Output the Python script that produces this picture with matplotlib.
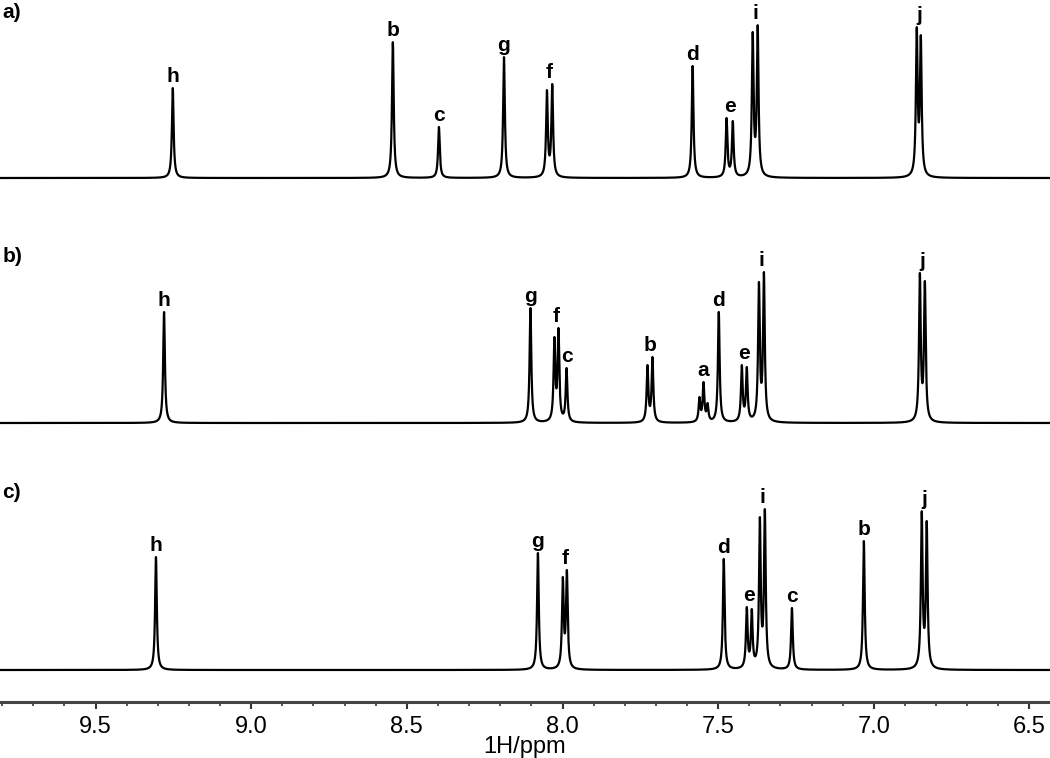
import numpy as np
import matplotlib.pyplot as plt
from matplotlib.ticker import MultipleLocator, FormatStrFormatter

plt.rcParams['font.family'] = ['Liberation Sans', 'DejaVu Sans']

# peak lists (shift in ppm, visible peak height, assignment)
a_shift = [9.252, 8.545, 8.397, 8.188, 8.050, 8.033, 7.582, 7.473, 7.453,
           7.389, 7.373, 6.862, 6.849]
a_height = [90, 136, 51, 121, 88, 94, 112, 60, 57, 146, 153, 151, 143]
a_label = ['h', 'b', 'c', 'g', 'f', 'f', 'd', 'e', 'e', 'i', 'i', 'j', 'j']

b_shift = [9.280, 8.103, 8.026, 8.013, 7.987, 7.727, 7.711, 7.560, 7.547,
           7.534, 7.498, 7.424, 7.408, 7.369, 7.353, 6.852, 6.836]
b_height = [111, 115, 86, 95, 55, 58, 66, 26, 41, 20, 111, 58, 56, 141, 151,
            150, 142]
b_label = ['h', 'g', 'f', 'f', 'c', 'b', 'b', 'a', 'a', 'a', 'd', 'e', 'e',
           'i', 'i', 'j', 'j']

c_shift = [9.306, 8.079, 7.999, 7.986, 7.482, 7.408, 7.392, 7.366, 7.350,
           7.263, 7.032, 6.846, 6.830]
c_height = [113, 117, 93, 100, 111, 63, 61, 153, 161, 62, 129, 159, 149]
c_label = ['h', 'g', 'f', 'f', 'd', 'e', 'e', 'i', 'i', 'c', 'b', 'j', 'j']

panel_names = ['a)', 'b)', 'c)']

# layout
offsets = [524, 279, 32]
name_y = [745, 501, 265]
fwhm = 0.0065
xmin, xmax = 9.807, 6.434


def _lorentz(d):
    hw = fwhm / 2.0
    return hw ** 2 / (d ** 2 + hw ** 2)


def _amplitudes(shifts, heights):
    # so that the summed lines reach the heights
    s = np.array(shifts)
    A = _lorentz(s[:, None] - s[None, :])
    return np.linalg.solve(A, np.array(heights, dtype=float))


def _spectrum(ppm, shifts, amps):
    y = np.zeros_like(ppm)
    for s, h in zip(shifts, amps):
        y += h * _lorentz(ppm - s)
    return y


fig = plt.figure(figsize=(10.5, 7.58), dpi=100)
ax = fig.add_axes([0, 1 - 702 / 758, 1, 702 / 758])

ppm = np.linspace(xmin, xmax, 12000)
panels = [(a_shift, a_height, a_label),
          (b_shift, b_height, b_label),
          (c_shift, c_height, c_label)]

for (shifts, heights, labels), off in zip(panels, offsets):
    amps = _amplitudes(shifts, heights)
    ax.plot(ppm, off + _spectrum(ppm, shifts, amps), color='black', lw=1.6)
    for lab in dict.fromkeys(labels):
        idx = [k for k, l in enumerate(labels) if l == lab]
        cx = np.mean([shifts[k] for k in idx])
        top = off + max(heights[k] for k in idx)
        ax.annotate(lab, xy=(cx, top), xytext=(0, 1.5), textcoords='offset points',
                    ha='center', va='bottom', fontsize=15, fontweight='bold')

for name, yy in zip(panel_names, name_y):
    fig.text(0.002, yy / 758, name, fontsize=15, fontweight='bold',
             ha='left', va='center')

ax.set_xlim(xmin, xmax)
ax.set_ylim(0, 702)
ax.xaxis.set_major_locator(MultipleLocator(0.5))
ax.xaxis.set_minor_locator(MultipleLocator(0.1))
ax.xaxis.set_major_formatter(FormatStrFormatter('%.1f'))
ax.tick_params(axis='x', which='major', length=5, width=1.5, color='#333',
               labelsize=17, pad=5)
ax.tick_params(axis='x', which='minor', length=3, width=1.2, color='#333')
ax.set_yticks([])
for side in ['top', 'left', 'right']:
    ax.spines[side].set_visible(False)
ax.spines['bottom'].set_linewidth(2.2)
ax.spines['bottom'].set_color('#444')
ax.set_xlabel('1H/ppm', fontsize=17, labelpad=-1)
ax.patch.set_alpha(0)

plt.savefig('out.png', dpi=100)
